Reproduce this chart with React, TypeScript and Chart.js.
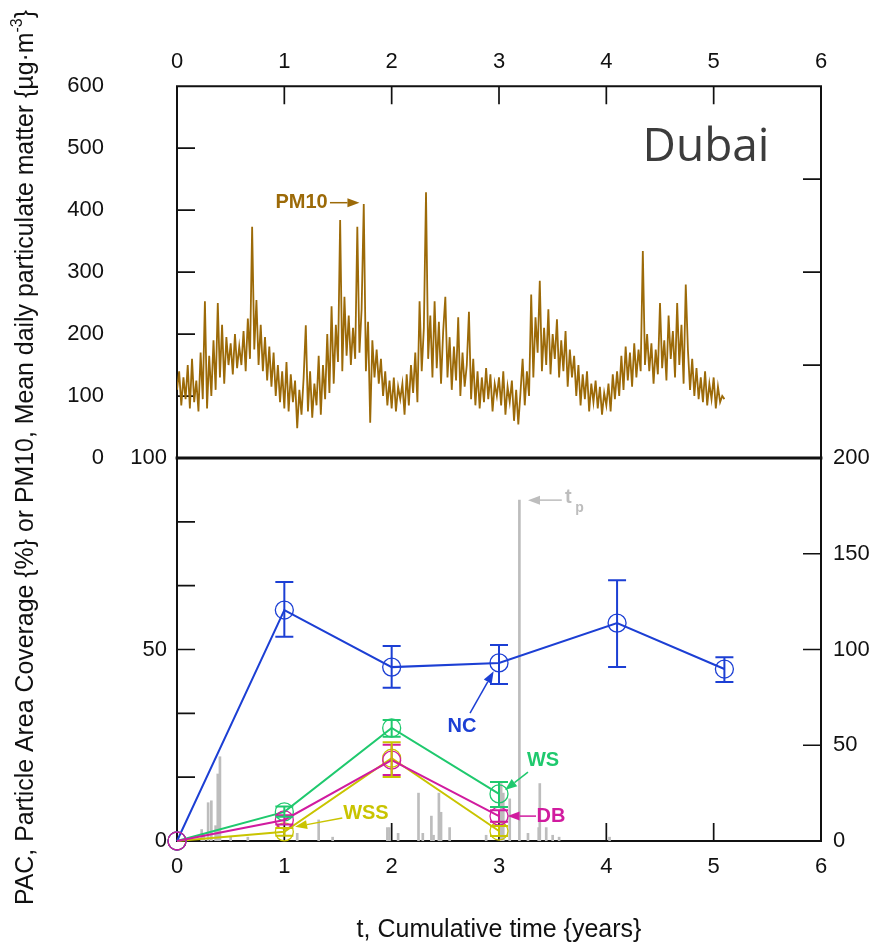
import React, { useEffect, useRef } from "react";
import { Chart, registerables } from "chart.js";

Chart.register(...registerables);

const FONT = "'Liberation Sans', Arial, Helvetica, sans-serif";

// ---------- DATA ----------
// PM10 mean daily particulate matter (µg/m3), sampled every PM10_DT years from t = 0
const PM10_DT = 0.02;
const PM10 = [
  110, 140, 85, 130, 95,
  150, 80, 160, 90, 125,
  75, 170, 95, 253, 80,
  165, 100, 190, 110, 250,
  130, 215, 120, 195, 150,
  185, 135, 200, 145, 180,
  150, 205, 140, 225, 160,
  373, 175, 255, 150, 215,
  140, 195, 125, 180, 115,
  170, 100, 150, 90, 140,
  80, 155, 75, 135, 90,
  125, 48, 110, 70, 130,
  214, 75, 140, 65, 120,
  85, 165, 70, 150, 95,
  200, 105, 245, 120, 215,
  155, 384, 140, 260, 165,
  230, 150, 210, 160, 373,
  170, 240, 410, 140, 220,
  57, 190, 130, 175, 120,
  160, 100, 140, 85, 125,
  80, 130, 75, 115, 95,
  120, 70, 135, 85, 150,
  105, 170, 90, 253, 140,
  210, 429, 160, 230, 130,
  253, 145, 220, 120, 205,
  260, 130, 195, 110, 180,
  125, 227, 100, 170, 115,
  150, 236, 95, 160, 85,
  140, 80, 130, 90, 145,
  95, 135, 75, 120, 100,
  130, 85, 140, 70, 115,
  90, 125, 60, 110, 54,
  105, 160, 85, 140, 100,
  264, 130, 227, 170, 286,
  140, 210, 150, 240, 135,
  200, 160, 224, 130, 190,
  140, 205, 115, 175, 130,
  165, 100, 150, 85, 135,
  95, 140, 75, 120, 90,
  125, 80, 115, 70, 105,
  85, 120, 75, 135, 95,
  140, 100, 165, 110, 180,
  125, 170, 115, 185, 130,
  175, 140, 334, 150, 200,
  140, 185, 120, 175, 135,
  250, 145, 190, 125, 230,
  160, 205, 130, 250, 150,
  215, 120, 280, 175, 110,
  160, 100, 145, 95, 130,
  90, 140, 85, 120, 95,
  130, 80, 115, 90, 100,
  95,
];

// PAC series (%), cumulative time in years
const NC_T = [0, 1, 2, 3, 4.1, 5.1];
const NC = [0, 60.3, 45.4, 46.5, 56.9, 44.9];
const NC_LO = [0, 53.3, 40.0, 41.0, 45.4, 41.5];
const NC_HI = [0, 67.6, 50.9, 51.2, 68.1, 48.0];

const SUB_T = [0, 1, 2, 3];
const WS = [0, 7.6, 29.5, 12.3];
const WS_LO = [0, 6.3, 27.2, 8.9];
const WS_HI = [0, 9.0, 31.6, 15.4];

const DB = [0, 5.5, 21.1, 6.5];
const DB_LO = [0, 4.3, 17.2, 5.0];
const DB_HI = [0, 6.7, 25.1, 8.0];

const WSS = [0, 2.4, 21.6, 2.6];
const WSS_LO = [0, 1.4, 16.7, 1.3];
const WSS_HI = [0, 3.4, 25.8, 3.9];

// Precipitation events (right axis), time in years
const RAIN_T = [0.23, 0.25, 0.29, 0.32, 0.36, 0.38, 0.4, 0.5, 0.66, 1.12, 1.32, 1.45, 1.96, 1.98, 2.06, 2.25, 2.29, 2.37, 2.39, 2.44, 2.46, 2.54, 2.88, 3.02, 3.04, 3.1, 3.19, 3.27, 3.37, 3.38, 3.44, 3.5, 3.56, 4.03];
const RAIN = [6, 4, 20, 21, 8, 35, 44, 2, 2, 4, 11, 2, 7, 7, 4, 25, 4, 13, 3, 25, 15, 7, 3, 30, 25, 22, 178, 4, 7, 30, 7, 3, 2, 2];

const X_MIN = 0, X_MAX = 6, X_STEP = 1;
const PM_MIN = 0, PM_MAX = 600, PM_STEP = 100;
const PAC_MIN = 0, PAC_MAX = 100, PAC_STEP = 100 / 6;
const PAC_LABELS = [0, 50, 100];
const R_MIN = 0, R_MAX = 200, R_STEP = 50;
const R_TOP_MIN = 200, R_TOP_MAX = 400;

// ---------- COLOURS ----------
const C_PM = "#9c6a08";
const C_NC = "#1c3fd4";
const C_WS = "#1fc96e";
const C_DB = "#d11b9f";
const C_WSS = "#c9c400";
const C_RAIN = "#bdbdbd";
const C_AX = "#111111";

// ---------- HELPERS ----------
function drawArrow(ctx: CanvasRenderingContext2D, x1: number, y1: number, x2: number, y2: number, color: string, lw = 1.5, head = 12, hw = 4.5) {
  const ang = Math.atan2(y2 - y1, x2 - x1);
  const bx = x2 - head * Math.cos(ang);
  const by = y2 - head * Math.sin(ang);
  ctx.save();
  ctx.strokeStyle = color;
  ctx.fillStyle = color;
  ctx.lineWidth = lw;
  ctx.beginPath();
  ctx.moveTo(x1, y1);
  ctx.lineTo(bx, by);
  ctx.stroke();
  ctx.beginPath();
  ctx.moveTo(x2, y2);
  ctx.lineTo(bx + hw * Math.sin(ang), by - hw * Math.cos(ang));
  ctx.lineTo(bx - hw * Math.sin(ang), by + hw * Math.cos(ang));
  ctx.closePath();
  ctx.fill();
  ctx.restore();
}

type TickSpec = { id: string; side: "left" | "right" | "top" | "bottom" };

function frameTicksPlugin(sides: string[], thickTop: boolean, specs: TickSpec[]) {
  return {
    id: "frameTicks",
    beforeDatasetsDraw(chart: any) {
      const { ctx, chartArea: a } = chart;
      ctx.save();
      ctx.strokeStyle = C_AX;
      ctx.lineCap = "square";
      ctx.lineWidth = 2;
      ctx.beginPath();
      if (sides.includes("left")) { ctx.moveTo(a.left, a.top); ctx.lineTo(a.left, a.bottom); }
      if (sides.includes("right")) { ctx.moveTo(a.right, a.top); ctx.lineTo(a.right, a.bottom); }
      if (sides.includes("top")) { ctx.moveTo(a.left, a.top); ctx.lineTo(a.right, a.top); }
      if (sides.includes("bottom")) { ctx.moveTo(a.left, a.bottom); ctx.lineTo(a.right, a.bottom); }
      ctx.stroke();
      if (thickTop) {
        ctx.lineWidth = 2.8;
        ctx.beginPath();
        ctx.moveTo(a.left, a.top);
        ctx.lineTo(a.right, a.top);
        ctx.stroke();
      }
      ctx.lineWidth = 1.7;
      ctx.lineCap = "butt";
      const L = 18;
      for (const spec of specs) {
        const s = chart.scales[spec.id];
        if (!s) continue;
        ctx.beginPath();
        for (const t of s.ticks) {
          const v = t.value;
          if (Math.abs(v - s.min) < 1e-6 || Math.abs(v - s.max) < 1e-6) continue;
          const p = s.getPixelForValue(v);
          if (spec.side === "left") { ctx.moveTo(a.left, p); ctx.lineTo(a.left + L, p); }
          if (spec.side === "right") { ctx.moveTo(a.right, p); ctx.lineTo(a.right - L, p); }
          if (spec.side === "top") { ctx.moveTo(p, a.top); ctx.lineTo(p, a.top + L); }
          if (spec.side === "bottom") { ctx.moveTo(p, a.bottom); ctx.lineTo(p, a.bottom - L); }
        }
        ctx.stroke();
      }
      ctx.restore();
    },
  };
}

const errorBarPlugin = {
  id: "errorBars",
  afterDatasetsDraw(chart: any) {
    const { ctx } = chart;
    chart.data.datasets.forEach((ds: any, i: number) => {
      if (!ds.errLo || !ds.errHi) return;
      const meta = chart.getDatasetMeta(i);
      const xs = chart.scales[meta.xAxisID];
      const ys = chart.scales[meta.yAxisID];
      ctx.save();
      ctx.strokeStyle = ds.borderColor;
      ctx.lineWidth = 2;
      ds.data.forEach((pt: any, j: number) => {
        const lo = ds.errLo[j], hi = ds.errHi[j];
        if (hi - lo <= 0) return;
        const x = xs.getPixelForValue(pt.x);
        const yl = ys.getPixelForValue(lo);
        const yh = ys.getPixelForValue(hi);
        const cw = 9;
        ctx.beginPath();
        ctx.moveTo(x, yl); ctx.lineTo(x, yh);
        ctx.moveTo(x - cw, yl); ctx.lineTo(x + cw, yl);
        ctx.moveTo(x - cw, yh); ctx.lineTo(x + cw, yh);
        ctx.stroke();
      });
      ctx.restore();
    });
  },
};

type Label = { x: number; y: number; text: string; color: string; font: string; align?: CanvasTextAlign; baseline?: CanvasTextBaseline };
type Arrow = { x1: number; y1: number; x2: number; y2: number; color: string };

function annotationPlugin(xId: string, yId: string, labels: Label[], arrows: Arrow[], extra?: (chart: any) => void) {
  return {
    id: "annotations",
    afterDraw(chart: any) {
      const { ctx } = chart;
      const xs = chart.scales[xId];
      const ys = chart.scales[yId];
      for (const a of arrows) {
        drawArrow(ctx, xs.getPixelForValue(a.x1), ys.getPixelForValue(a.y1), xs.getPixelForValue(a.x2), ys.getPixelForValue(a.y2), a.color);
      }
      for (const l of labels) {
        ctx.save();
        ctx.fillStyle = l.color;
        ctx.font = l.font;
        ctx.textAlign = l.align || "center";
        ctx.textBaseline = l.baseline || "middle";
        ctx.fillText(l.text, xs.getPixelForValue(l.x), ys.getPixelForValue(l.y));
        ctx.restore();
      }
      if (extra) extra(chart);
    },
  };
}

const BOLD20 = `bold 20px ${FONT}`;

function drawVerticalTitle(chart: any) {
  const ctx: CanvasRenderingContext2D = chart.ctx;
  const parts = [
    { t: "PAC, Particle Area Coverage {%} or PM10, Mean daily particulate matter {µg·m", f: `25px ${FONT}`, dy: 0 },
    { t: "-3", f: `16px ${FONT}`, dy: -11 },
    { t: "}", f: `25px ${FONT}`, dy: 0 },
  ];
  let total = 0;
  const widths: number[] = [];
  for (const p of parts) {
    ctx.font = p.f;
    const w = ctx.measureText(p.t).width;
    widths.push(w);
    total += w;
  }
  const target = 895;
  const sx = target / total;
  ctx.save();
  ctx.translate(33, 457.5);
  ctx.rotate(-Math.PI / 2);
  ctx.scale(sx, 1);
  ctx.fillStyle = C_AX;
  ctx.textAlign = "left";
  ctx.textBaseline = "alphabetic";
  let x = -total / 2;
  parts.forEach((p, i) => {
    ctx.font = p.f;
    ctx.fillText(p.t, x, p.dy);
    x += widths[i];
  });
  ctx.restore();
}

const tickFont = { family: FONT, size: 22 };

function topConfig(): any {
  return {
    type: "line",
    data: {
      datasets: [
        {
          label: "PM10",
          data: PM10.map((v, i) => ({ x: i * PM10_DT, y: v })),
          borderColor: C_PM,
          borderWidth: 1.8,
          pointRadius: 0,
          fill: false,
          tension: 0,
          xAxisID: "x",
          yAxisID: "y",
        },
      ],
    },
    options: {
      responsive: false,
      animation: false,
      events: [],
      devicePixelRatio: 1,
      layout: { padding: { left: 0, right: 0, top: 0, bottom: 489 } },
      plugins: { legend: { display: false }, tooltip: { enabled: false }, title: { display: false } },
      scales: {
        x: {
          type: "linear", position: "top", min: X_MIN, max: X_MAX, offset: false,
          grid: { display: false, drawTicks: false }, border: { display: false },
          ticks: { stepSize: X_STEP, padding: 11, font: tickFont, color: C_AX, maxRotation: 0, autoSkip: false },
          afterFit: (s: any) => { s.height = 72; },
        },
        y: {
          type: "linear", position: "left", min: PM_MIN, max: PM_MAX,
          grid: { display: false, drawTicks: false }, border: { display: false },
          ticks: { stepSize: PM_STEP, padding: 73, font: tickFont, color: C_AX },
          afterFit: (s: any) => { s.width = 177; },
        },
        yR: {
          type: "linear", position: "right", min: R_TOP_MIN, max: R_TOP_MAX,
          grid: { display: false, drawTicks: false }, border: { display: false },
          ticks: { stepSize: R_STEP, display: false },
          afterFit: (s: any) => { s.width = 55; },
        },
      },
    },
    plugins: [
      frameTicksPlugin(["left", "top", "right"], false, [
        { id: "x", side: "top" },
        { id: "y", side: "left" },
        { id: "yR", side: "right" },
      ]),
      annotationPlugin(
        "x", "y",
        [
          { x: 1.16, y: 412, text: "PM10", color: C_PM, font: BOLD20 },
          { x: 5.52, y: 479, text: "Dubai", color: "#3c3c3c", font: `46px 'Open Sans', 'Noto Sans', sans-serif`, align: "right", baseline: "alphabetic" },
        ],
        [{ x1: 1.425, y1: 412, x2: 1.7, y2: 412, color: C_PM }]
      ),
    ],
  };
}

function lineDs(label: string, xs: number[], ys: number[], lo: number[], hi: number[], color: string, order: number) {
  return {
    type: "line",
    label,
    data: xs.map((t, i) => ({ x: t, y: ys[i] })),
    borderColor: color,
    backgroundColor: "rgba(0,0,0,0)",
    borderWidth: 2,
    pointRadius: 9,
    pointBorderWidth: 1.3,
    pointBackgroundColor: "rgba(0,0,0,0)",
    pointBorderColor: color,
    fill: false,
    tension: 0,
    clip: false,
    order,
    errLo: lo,
    errHi: hi,
    xAxisID: "x",
    yAxisID: "y",
  };
}

function bottomConfig(): any {
  return {
    type: "line",
    data: {
      datasets: [
        lineDs("DB", SUB_T, DB, DB_LO, DB_HI, C_DB, 0),
        lineDs("NC", NC_T, NC, NC_LO, NC_HI, C_NC, 1),
        lineDs("WS", SUB_T, WS, WS_LO, WS_HI, C_WS, 2),
        lineDs("WSS", SUB_T, WSS, WSS_LO, WSS_HI, C_WSS, 3),
        {
          type: "bar",
          label: "Precipitation",
          data: RAIN_T.map((t, i) => ({ x: t, y: RAIN[i] })),
          backgroundColor: C_RAIN,
          borderWidth: 0,
          barThickness: 2,
          order: 10,
          xAxisID: "x",
          yAxisID: "yR",
        },
      ],
    },
    options: {
      responsive: false,
      animation: false,
      events: [],
      devicePixelRatio: 1,
      layout: { padding: { left: 0, right: 0, top: 458, bottom: 0 } },
      plugins: { legend: { display: false }, tooltip: { enabled: false }, title: { display: false } },
      scales: {
        x: {
          type: "linear", position: "bottom", min: X_MIN, max: X_MAX, offset: false,
          grid: { display: false, drawTicks: false, offset: false }, border: { display: false },
          ticks: { stepSize: X_STEP, padding: 13, font: tickFont, color: C_AX, maxRotation: 0, autoSkip: false },
          title: { display: true, text: "t, Cumulative time {years}", font: { family: FONT, size: 25 }, color: C_AX, padding: { top: 0, bottom: 2 } },
          afterFit: (s: any) => { s.height = 106; },
        },
        y: {
          type: "linear", position: "left", min: PAC_MIN, max: PAC_MAX,
          grid: { display: false, drawTicks: false }, border: { display: false },
          ticks: {
            stepSize: PAC_STEP, padding: 10, font: tickFont, color: C_AX, autoSkip: false,
            callback: (v: number) => {
              const hit = PAC_LABELS.find((l) => Math.abs(l - v) < 0.01);
              return hit === undefined ? "" : String(hit);
            },
          },
          afterFit: (s: any) => { s.width = 177; },
        },
        yR: {
          type: "linear", position: "right", min: R_MIN, max: R_MAX,
          grid: { display: false, drawTicks: false }, border: { display: false },
          ticks: { stepSize: R_STEP, padding: 12, font: tickFont, color: C_AX },
          afterFit: (s: any) => { s.width = 55; },
        },
      },
    },
    plugins: [
      frameTicksPlugin(["left", "right", "bottom"], true, [
        { id: "x", side: "bottom" },
        { id: "y", side: "left" },
        { id: "yR", side: "right" },
      ]),
      errorBarPlugin,
      annotationPlugin(
        "x", "y",
        [
          { x: 2.655, y: 29.8, text: "NC", color: C_NC, font: BOLD20 },
          { x: 3.41, y: 21.1, text: "WS", color: C_WS, font: BOLD20 },
          { x: 3.485, y: 6.3, text: "DB", color: C_DB, font: BOLD20 },
          { x: 1.76, y: 7.3, text: "WSS", color: C_WSS, font: BOLD20 },
          { x: 3.615, y: 89.6, text: "t", color: C_RAIN, font: BOLD20, align: "left" },
          { x: 3.71, y: 86.8, text: "p", color: C_RAIN, font: `bold 14px ${FONT}`, align: "left" },
        ],
        [
          { x1: 2.73, y1: 33.4, x2: 2.95, y2: 44.3, color: C_NC },
          { x1: 3.27, y1: 18.0, x2: 3.056, y2: 13.3, color: C_WS },
          { x1: 3.345, y1: 6.5, x2: 3.08, y2: 6.5, color: C_DB },
          { x1: 1.54, y1: 6.0, x2: 1.1, y2: 3.7, color: C_WSS },
          { x1: 3.585, y1: 89.0, x2: 3.27, y2: 89.0, color: C_RAIN },
        ],
        drawVerticalTitle
      ),
    ],
  };
}

export default function App() {
  const topRef = useRef<HTMLCanvasElement>(null);
  const botRef = useRef<HTMLCanvasElement>(null);

  useEffect(() => {
    Chart.defaults.font.family = FONT;
    Chart.defaults.color = C_AX;
    const top = new Chart(topRef.current as HTMLCanvasElement, topConfig());
    const bot = new Chart(botRef.current as HTMLCanvasElement, bottomConfig());
    return () => {
      top.destroy();
      bot.destroy();
    };
  }, []);

  return (
    <div style={{ position: "absolute", left: 0, top: 0, width: 876, height: 947, background: "#ffffff" }}>
      <canvas ref={topRef} width={876} height={947} style={{ position: "absolute", left: 0, top: 0, width: 876, height: 947 }} />
      <canvas ref={botRef} width={876} height={947} style={{ position: "absolute", left: 0, top: 0, width: 876, height: 947 }} />
    </div>
  );
}
